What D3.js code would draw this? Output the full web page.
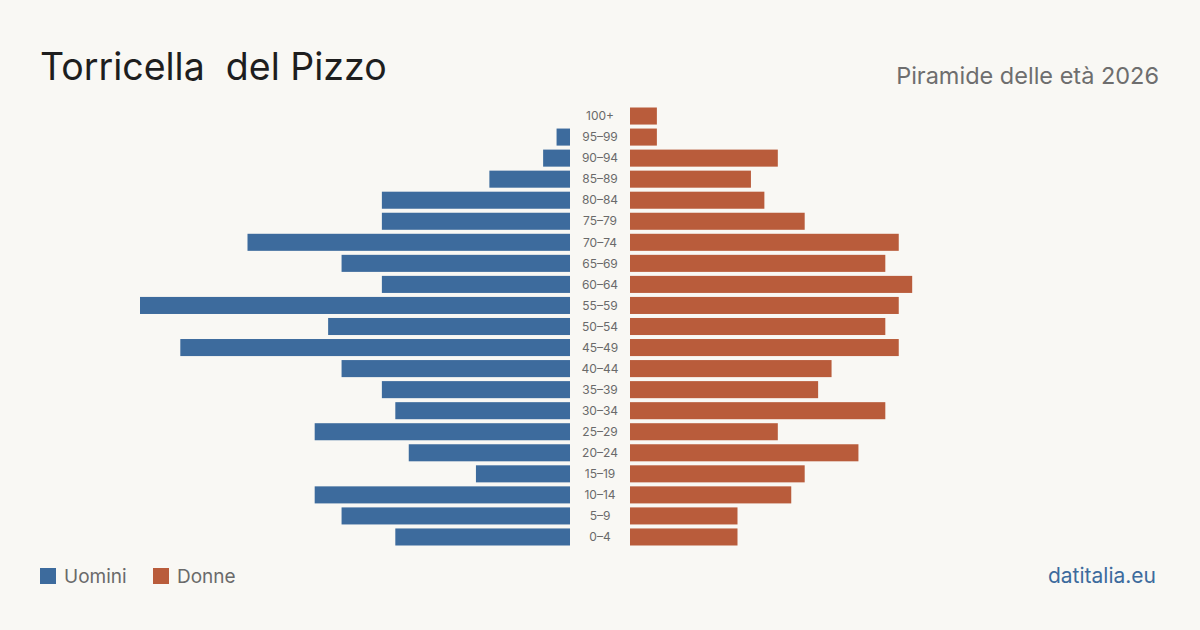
<!DOCTYPE html>
<html>
<head>
<meta charset="utf-8">
<script src="https://cdn.jsdelivr.net/npm/d3@7"></script>
<style>
  body { margin: 0; background: #f9f8f4; }
  svg { display: block; font-family: Inter, "Open Sans", sans-serif; }
</style>
</head>
<body>
<div id="chart"></div>
<script>
// age groups, top to bottom
const ageGroups = ['100+', '95-99', '90-94', '85-89', '80-84', '75-79', '70-74', '65-69', '60-64', '55-59',
    '50-54', '45-49', '40-44', '35-39', '30-34', '25-29', '20-24', '15-19', '10-14', '5-9', '0-4'];
const men   = [0, 1, 2, 6, 14, 14, 24, 17, 14, 32, 18, 29, 17, 14, 13, 19, 12, 7, 19, 17, 13];
const women = [2, 2, 11, 9, 10, 13, 20, 19, 21, 20, 19, 20, 15, 14, 19, 11, 17, 13, 12, 8, 8];
const legendLabels = ['Uomini', 'Donne'];

const width = 1200, height = 630;
const blue = '#3d6b9d', orange = '#b95c3b';

const svg = d3.select('#chart')
    .append('svg')
    .attr('width', width)
    .attr('height', height);

svg.append('rect')
    .attr('width', width)
    .attr('height', height)
    .attr('fill', '#f9f8f4');

const yScale = d3.scaleBand()
    .domain(ageGroups)
    .range([105.5, 547.5])
    .paddingInner(0.19)
    .paddingOuter(0.095);

const maxVal = 32;
const xMen = d3.scaleLinear().domain([0, maxVal]).range([570, 140]);
const xWomen = d3.scaleLinear().domain([0, maxVal]).range([630, 1060]);

// title
svg.append('text')
    .attr('x', 40)
    .attr('y', 80)
    .text('Torricella\u00a0 del Pizzo')
    .style('font-size', '37.5px')
    .style('fill', '#1e1e1e');

svg.append('text')
    .attr('x', 1159)
    .attr('y', 84)
    .attr('text-anchor', 'end')
    .text('Piramide delle età 2026')
    .style('font-size', '23.5px')
    .style('fill', '#6e6e6e');

// bars
svg.selectAll('.bar-men')
    .data(ageGroups)
    .enter()
    .append('rect')
    .attr('class', 'bar-men')
    .attr('x', (d, i) => xMen(men[i]))
    .attr('y', (d) => yScale(d))
    .attr('width', (d, i) => xMen(0) - xMen(men[i]))
    .attr('height', yScale.bandwidth())
    .attr('fill', blue);

svg.selectAll('.bar-women')
    .data(ageGroups)
    .enter()
    .append('rect')
    .attr('class', 'bar-women')
    .attr('x', xWomen(0))
    .attr('y', (d) => yScale(d))
    .attr('width', (d, i) => xWomen(women[i]) - xWomen(0))
    .attr('height', yScale.bandwidth())
    .attr('fill', orange);

svg.selectAll('.age-label')
    .data(ageGroups)
    .enter()
    .append('text')
    .attr('class', 'age-label')
    .attr('x', 600)
    .attr('y', (d) => yScale(d) + yScale.bandwidth() / 2)
    .attr('dy', '0.35em')
    .attr('text-anchor', 'middle')
    .text((d) => d.replace('-', '–'))
    .style('font-size', '12px')
    .style('fill', '#6a6a6a');

// legend
const legend = svg.selectAll('.legend')
    .data(legendLabels)
    .enter()
    .append('g')
    .attr('class', 'legend')
    .attr('transform', (d, i) => `translate(${i == 0 ? 40 : 153}, 568)`);

legend.append('rect')
    .attr('width', 16)
    .attr('height', 16)
    .attr('fill', (d, i) => i == 0 ? blue : orange);

legend.append('text')
    .attr('x', 24)
    .attr('y', 8)
    .attr('dy', '0.35em')
    .text((d) => d)
    .style('font-size', '19px')
    .style('fill', '#6a6a6a');

svg.append('text')
    .attr('x', 1156)
    .attr('y', 583)
    .attr('text-anchor', 'end')
    .text('datitalia.eu')
    .style('font-size', '21px')
    .style('fill', blue);
</script>
</body>
</html>
